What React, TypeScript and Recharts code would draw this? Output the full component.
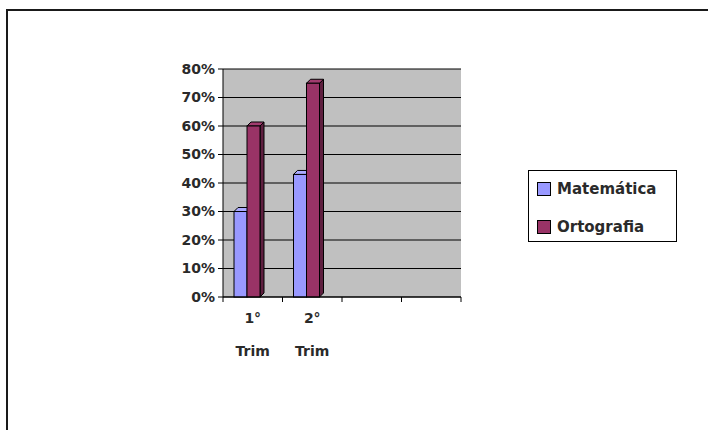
import { BarChart, Bar, XAxis, YAxis, CartesianGrid, Legend } from 'recharts';

// Notas por trimestre (fração de acertos)
const trimestres = ['1° Trim', '2° Trim', '', ''];
const matematica = [0.3, 0.43, null, null];
const ortografia = [0.6, 0.75, null, null];
const yTicks = [0, 0.1, 0.2, 0.3, 0.4, 0.5, 0.6, 0.7, 0.8];

const data = trimestres.map((t, i) => ({
    trim: `c${i}`,
    Matemática: matematica[i],
    Ortografia: ortografia[i],
}));

const SERIES = [
    { key: 'Matemática', front: '#9999ff', top: '#aaaaff', side: '#6b6bb8' },
    { key: 'Ortografia', front: '#993366', top: '#a23c6f', side: '#5e1f3f' },
];

const FONT = '"DejaVu Sans", Verdana, sans-serif';
const TEXT = '#2a2a2a';
const CHART_W = 708;
const CHART_H = 430;
const MARGIN = { top: 69, right: 247, bottom: 73, left: 163 };
const BAND = (CHART_W - MARGIN.left - MARGIN.right - 60) / trimestres.length;

// 3D-looking column: front face pushed left, with a top and a side face
const make3DBar = (colors: { front: string; top: string; side: string }) => (props: any) => {
    const { x, y, width, height } = props;
    if (height == null || height <= 0) return null;
    const fx = x - 6;
    const d = 4;
    return (
        <g stroke="#000" strokeWidth={1}>
            <polygon
                points={`${fx + width},${y} ${fx + width + d},${y - d} ${fx + width + d},${y + height - d} ${fx + width},${y + height}`}
                fill={colors.side}
            />
            <polygon
                points={`${fx},${y} ${fx + d},${y - d} ${fx + width + d},${y - d} ${fx + width},${y}`}
                fill={colors.top}
            />
            <rect x={fx} y={y} width={width} height={height} fill={colors.front} />
        </g>
    );
};

const TrimTick = (props: any) => {
    const { x, y, index } = props;
    const label = trimestres[index] || '';
    const [first, second] = label.split(' ');
    const left = x - BAND / 2;
    const textProps = { textAnchor: 'middle' as const, fontSize: 14, fontWeight: 'bold', fontFamily: FONT, fill: TEXT };
    return (
        <g>
            <line x1={left} y1={y} x2={left} y2={y + 5} stroke="#000" />
            {index === trimestres.length - 1 && (
                <line x1={x + BAND / 2} y1={y} x2={x + BAND / 2} y2={y + 5} stroke="#000" />
            )}
            {first && (
                <text x={x} y={y + 26} {...textProps}>
                    {first}
                </text>
            )}
            {second && (
                <text x={x} y={y + 59} {...textProps}>
                    {second}
                </text>
            )}
        </g>
    );
};

const LegendBox = () => (
    <div
        style={{
            width: 147,
            height: 70,
            border: '1px solid #000',
            background: '#fff',
            fontFamily: FONT,
            fontSize: 15,
            fontWeight: 'bold',
            color: TEXT,
            boxSizing: 'content-box',
        }}
    >
        {SERIES.map((s, i) => (
            <div
                key={s.key}
                style={{ display: 'flex', alignItems: 'center', position: 'absolute', left: 9, top: i === 0 ? 10 : 48 }}
            >
                <span
                    style={{
                        display: 'inline-block',
                        width: 12,
                        height: 12,
                        background: s.front,
                        border: '1px solid #000',
                        marginRight: 6,
                    }}
                />
                <span>{s.key}</span>
            </div>
        ))}
    </div>
);

export default function App() {
    return (
        <div style={{ position: 'absolute', left: 0, top: 0, width: CHART_W, height: CHART_H, background: '#fff', overflow: 'hidden' }}>
            <div
                style={{
                    position: 'absolute',
                    left: 6,
                    top: 9,
                    width: 760,
                    height: 480,
                    borderTop: '2px solid #1a1a1a',
                    borderLeft: '2px solid #1a1a1a',
                }}
            />
            <div style={{ position: 'absolute', left: 0, top: 0 }}>
                <BarChart width={CHART_W} height={CHART_H} data={data} margin={MARGIN} barGap={0} barSize={13}>
                    <CartesianGrid vertical={false} stroke="#000" fill="#c0c0c0" />
                    <XAxis
                        dataKey="trim"
                        axisLine={{ stroke: '#000' }}
                        tickLine={false}
                        tickSize={0}
                        tickMargin={0}
                        tick={<TrimTick />}
                        interval={0}
                        height={60}
                    />
                    <YAxis
                        domain={[0, 0.8]}
                        ticks={yTicks}
                        tickFormatter={(v: number) => `${Math.round(v * 100)}%`}
                        axisLine={{ stroke: '#000' }}
                        tickLine={{ stroke: '#000' }}
                        tickSize={5}
                        tickMargin={3}
                        tick={{ fontSize: 14, fontWeight: 'bold', fontFamily: FONT, fill: TEXT }}
                        width={60}
                    />
                    <YAxis
                        yAxisId="wall"
                        orientation="right"
                        domain={[0, 0.8]}
                        tick={false}
                        tickLine={false}
                        axisLine={{ stroke: '#808080' }}
                        width={0}
                    />
                    {SERIES.map((s) => (
                        <Bar key={s.key} dataKey={s.key} isAnimationActive={false} shape={make3DBar(s)} />
                    ))}
                    <Legend
                        layout="vertical"
                        align="center"
                        verticalAlign="middle"
                        content={<LegendBox />}
                        wrapperStyle={{ left: 528, top: 170, width: 149, height: 72 }}
                    />
                </BarChart>
            </div>
        </div>
    );
}
